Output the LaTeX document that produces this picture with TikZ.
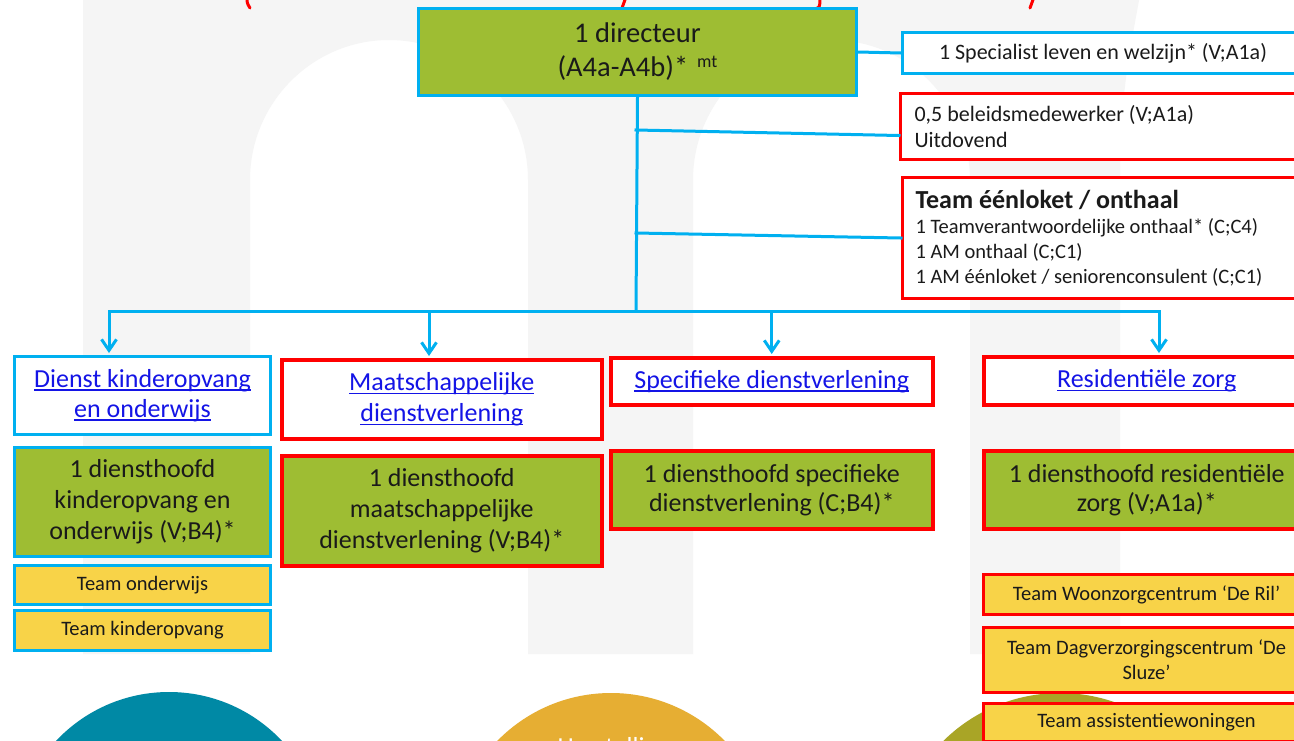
\documentclass[tikz,border=0pt]{standalone}
\usepackage{fontspec}
\setmainfont{Carlito}
\usetikzlibrary{arrows.meta,calc}
\definecolor{cblue}{HTML}{00B0F0}
\definecolor{cred}{HTML}{FF0000}
\definecolor{cgreen}{RGB}{158,189,51}
\definecolor{cyel}{RGB}{248,211,72}
\definecolor{clink}{RGB}{20,20,230}
\definecolor{cwm}{HTML}{F5F5F5}
\definecolor{cteal}{HTML}{0089A5}
\definecolor{cgold}{HTML}{E6AE33}
\definecolor{colive}{HTML}{A9A526}
\definecolor{ctext}{HTML}{1A1A1A}
\newcommand\fsz[2]{\fontsize{#1}{#2}\selectfont}
\newcommand\ulk[1]{\setbox0\hbox{#1}\rlap{\rule[-3.5pt]{\wd0}{1.4pt}}\box0}
\tikzset{
  box/.style={draw, line width=3pt, inner sep=0pt, anchor=north west, text=ctext, align=center},
  bl/.style={box, draw=cblue},
  rd/.style={box, draw=cred, line width=3.5pt},
  gr/.style={fill=cgreen},
  ye/.style={fill=cyel},
  wh/.style={fill=white},
  conn/.style={draw=cblue, line width=3pt, line cap=rect},
  arr/.style={conn, line cap=butt, -{Straight Barb[length=11pt,width=15pt,line width=3pt]}},
  frag/.style={draw=cred, line width=3pt, line cap=round}
}
\begin{document}
\begin{tikzpicture}[x=1pt,y=-1pt]
\useasboundingbox (0,0) rectangle (1294,740);
\clip (0,0) rectangle (1294,740);
\fill[white] (0,0) rectangle (1294,740);
% watermark
\fill[cwm] (83,654) -- (83,-5) -- (1140,-5) .. controls (1128,60) and (1120,100) .. (1120,180) -- (1120,654) -- (970,654) -- (970,180)
  .. controls (970,103) and (908,40) .. (831.5,40) .. controls (755,40) and (693,103) .. (693,180)
  -- (693,654) -- (528,654) -- (528,180)
  .. controls (528,103) and (465.7,40) .. (389,40) .. controls (312.3,40) and (250,103) .. (250,180)
  -- (250,654) -- cycle;
% title fragments
\draw[frag] (247,-3) .. controls (247,3) .. (250,8);
\draw[frag] (626,-3) -- (622,8);
\draw[frag] (820,-3) .. controls (820,8) .. (813,9);
\draw[frag] (1034,-3) -- (1030,8);
% circles
\fill[cteal] (169,847) circle[radius=155pt];
\fill[cgold] (611,852) circle[radius=159pt];
\fill[colive] (1060,859) circle[radius=166pt];
\node[text=white, font=\fsz{26}{26}, anchor=base] (gt) at (614,755) {Herstelling};
% top
\node[bl, gr, minimum width=438pt, minimum height=87pt, font=\fsz{28.5}{34}] (dir) at (417,7)
  {1 directeur\\(A4a-A4b)*\hspace{9pt}\raisebox{9pt}{\fsz{18}{18}mt}};
\node[bl, wh, minimum width=401pt, minimum height=41pt, font=\fsz{22}{26}] (spec) at (901,31)
  {1 Specialist leven en welzijn* (V;A1a)};
\node[box, draw=cred, wh, minimum width=403pt, minimum height=66pt, text width=375pt, inner xsep=14pt, align=flush left, font=\fsz{22}{26}] (bel) at (899,92)
  {0,5 beleidsmedewerker (V;A1a)\\Uitdovend};
\node[box, draw=cred, wh, minimum width=401pt, minimum height=121pt, text width=375pt, inner xsep=13pt, align=flush left, font=\fsz{20.5}{25}] (team) at (901,176)
  {{\bfseries\fontsize{26}{25}\selectfont Team éénloket / onthaal}\\1 Teamverantwoordelijke onthaal* (C;C4)\\1 AM onthaal (C;C1)\\1 AM éénloket / seniorenconsulent (C;C1)};
% row headers
\node[bl, wh, minimum width=256pt, minimum height=78pt, text=clink, font=\fsz{26}{30}] (A) at (13,355)
  {\ulk{Dienst kinderopvang}\\\ulk{en onderwijs}};
\node[rd, wh, minimum width=320pt, minimum height=79pt, text=clink, font=\fsz{26}{31}] (B) at (280,358)
  {\ulk{Maatschappelijke}\\\ulk{dienstverlening}};
\node[rd, wh, minimum width=322pt, minimum height=47pt, text=clink, font=\fsz{26}{30}] (C) at (609,356)
  {\ulk{Specifieke dienstverlening}};
\node[rd, wh, minimum width=326pt, minimum height=48pt, text=clink, font=\fsz{26}{30}] (D) at (982,355)
  {\ulk{Residentiële zorg}};
% heads
\node[bl, gr, minimum width=256pt, minimum height=109pt, font=\fsz{26}{31}] (A2) at (13,446)
  {1 diensthoofd\\kinderopvang en\\onderwijs (V;B4)*};
\node[rd, gr, minimum width=320pt, minimum height=110pt, font=\fsz{26}{31}] (B2) at (280,454)
  {1 diensthoofd\\maatschappelijke\\dienstverlening (V;B4)*};
\node[rd, gr, minimum width=322pt, minimum height=78pt, font=\fsz{26}{29}] (C2) at (609,449)
  {1 diensthoofd specifieke\\dienstverlening (C;B4)*};
\node[rd, gr, minimum width=326pt, minimum height=78pt, font=\fsz{26}{29}] (D2) at (982,449)
  {1 diensthoofd residentiële\\zorg (V;A1a)*};
% teams
\node[bl, ye, minimum width=256pt, minimum height=39pt, font=\fsz{20.5}{25}] (A3) at (13,564) {Team onderwijs};
\node[bl, ye, minimum width=256pt, minimum height=40pt, font=\fsz{20.5}{25}] (A4) at (13,609) {Team kinderopvang};
\node[rd, ye, line width=3pt, minimum width=326pt, minimum height=40pt, font=\fsz{20.5}{25}] (D3) at (982,573) {Team Woonzorgcentrum ‘De Ril’};
\node[rd, ye, line width=3pt, minimum width=326pt, minimum height=65pt, font=\fsz{20.5}{25}] (D4) at (982,626) {Team Dagverzorgingscentrum ‘De\\Sluze’};
\node[rd, ye, line width=3pt, minimum width=326pt, minimum height=38pt, font=\fsz{20.5}{25}] (D5) at (982,702) {Team assistentiewoningen};
% connectors
\coordinate (t0) at (636,311);
\coordinate (j1) at (636,130);
\coordinate (j2) at (636,233);
\coordinate (bl) at (109,311);
\coordinate (br) at (1159,311);
\coordinate (b2) at (429,311);
\draw[conn] (dir.east) -- (spec.west);
\draw[conn] (dir.south) -- (t0);
\draw[conn] (j1) -- ([yshift=-9pt]bel.west);
\draw[conn] (j2) -- (team.west);
\draw[conn] (bl) -- (br);
\draw[arr] (bl) -- ([yshift=2pt]bl |- A.north);
\draw[arr] (b2) -- ([yshift=2pt]b2 |- B.north);
\draw[arr] (C.north |- bl) -- ([yshift=2pt]C.north);
\draw[arr] (br) -- ([yshift=2pt]br |- D.north);
\end{tikzpicture}
\end{document}
